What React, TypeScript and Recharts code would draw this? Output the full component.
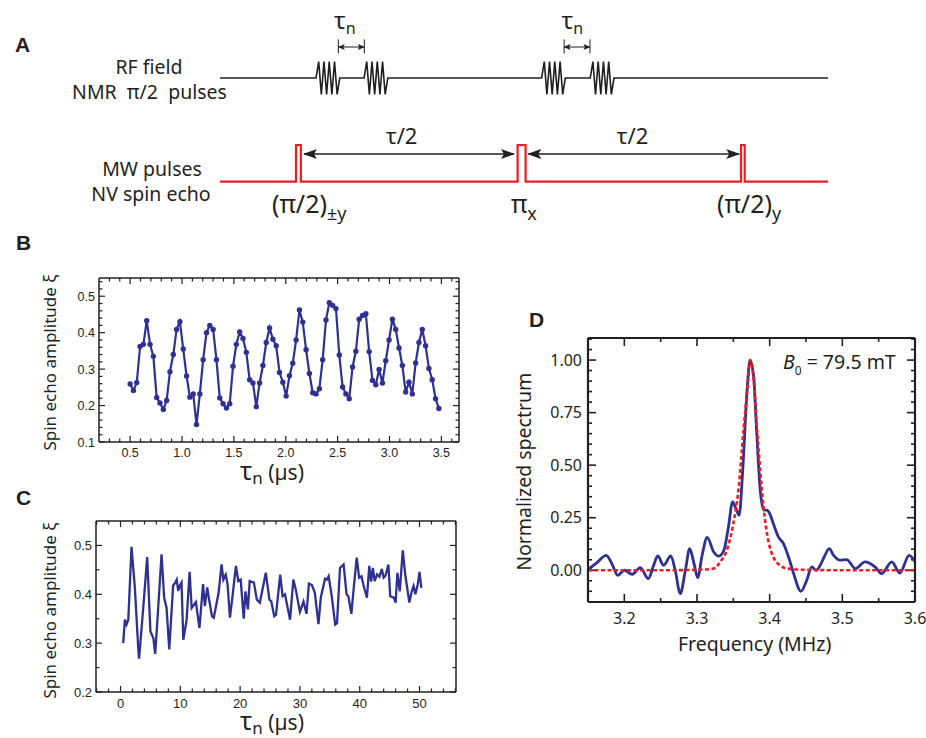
import React from 'react';
import { LineChart, Line, XAxis, YAxis, ReferenceLine } from 'recharts';

const INK = '#231f20';
const NAVY = '#2e3192';
const RED = '#ed1c24';
const SANS = '"Noto Sans", "Open Sans", sans-serif';
const ARIAL = '"Liberation Sans", Arial, sans-serif';

// ---- panel A: pulse sequence (arbitrary time units 0..100) ----
const rfBase = 7.1;
const rfBurstStarts = [15.8, 23.7, 52.9, 60.9];
const rfBurstShape = [0, 0.82, -0.82, 0.82, -0.82, 0.82, -0.82, 0.82, -0.82, 0];
const rfBurstWidth = 3.9;
const mwBase = 1.92;
const mwTop = 3.75;
const mwPulses = [
  [12.5, 13.3],
  [48.95, 50.26],
  [85.7, 86.3],
];

// ---- panel B ----
const bTau = [
  0.5, 0.532, 0.564, 0.596, 0.628, 0.66, 0.692, 0.724, 0.756, 0.788,
  0.82, 0.852, 0.884, 0.916, 0.948, 0.98, 1.012, 1.044, 1.076, 1.108,
  1.14, 1.172, 1.204, 1.236, 1.268, 1.3, 1.332, 1.364, 1.396, 1.428,
  1.46, 1.492, 1.524, 1.556, 1.588, 1.62, 1.652, 1.684, 1.716, 1.748,
  1.78, 1.812, 1.844, 1.876, 1.908, 1.94, 1.972, 2.004, 2.036, 2.068,
  2.1, 2.132, 2.164, 2.196, 2.228, 2.26, 2.292, 2.324, 2.356, 2.388,
  2.42, 2.452, 2.484, 2.516, 2.548, 2.58, 2.612, 2.644, 2.676, 2.708,
  2.74, 2.772, 2.804, 2.836, 2.868, 2.9, 2.932, 2.964, 2.996, 3.028,
  3.06, 3.092, 3.124, 3.156, 3.188, 3.22, 3.252, 3.284, 3.316, 3.348,
  3.38, 3.412, 3.444, 3.476,
];
const bEcho = [
  0.259, 0.241, 0.263, 0.362, 0.368, 0.433, 0.368, 0.335, 0.222, 0.207,
  0.189, 0.214, 0.293, 0.34, 0.409, 0.43, 0.355, 0.281, 0.223, 0.232,
  0.148, 0.232, 0.326, 0.4, 0.42, 0.409, 0.326, 0.221, 0.205, 0.193,
  0.205, 0.308, 0.368, 0.402, 0.384, 0.346, 0.271, 0.262, 0.197, 0.262,
  0.31, 0.373, 0.413, 0.382, 0.364, 0.291, 0.264, 0.226, 0.282, 0.316,
  0.38, 0.462, 0.429, 0.353, 0.288, 0.235, 0.232, 0.246, 0.326, 0.435,
  0.482, 0.475, 0.466, 0.339, 0.251, 0.232, 0.219, 0.306, 0.349, 0.437,
  0.447, 0.452, 0.348, 0.269, 0.257, 0.299, 0.262, 0.323, 0.38, 0.437,
  0.409, 0.358, 0.31, 0.237, 0.264, 0.232, 0.317, 0.373, 0.409, 0.364,
  0.302, 0.271, 0.219, 0.192,
];

// ---- panel C ----
const cTau = [
  0.45, 0.73, 1.0, 1.3, 1.84, 2.4, 2.96, 3.1, 3.8, 4.46, 5.0, 5.5, 5.8, 6.3,
  6.86, 7.3, 7.7, 8.15, 8.8, 9.2, 9.4, 9.65, 9.93, 10.2, 10.5, 11.05, 11.55,
  11.9, 12.6, 13.2, 13.8, 14.1, 14.5, 14.8, 15.3, 15.6, 16.4, 16.9, 17.2, 17.6,
  17.9, 18.3, 18.7, 19.3, 19.7, 20.1, 20.6, 20.9, 21.3, 21.6, 22.3, 22.8, 23.3,
  24.3, 24.9, 25.2, 25.7, 26.0, 26.7, 27.1, 27.5, 28.35, 28.9, 29.3, 30.0, 30.6,
  31.1, 31.5, 32.0, 32.5, 33.1, 33.5, 34.2, 34.5, 34.8, 35.3, 35.9, 36.2, 36.7,
  37.3, 37.8, 38.1, 38.6, 39.0, 39.5, 39.9, 40.3, 40.6, 41.2, 41.6, 41.9, 42.2,
  42.5, 42.9, 43.3, 43.7, 44.0, 44.3, 44.8, 45.1, 45.7, 46.0, 46.3, 46.7, 47.2,
  47.6, 48.3, 48.7, 49.0, 49.3, 49.7, 50.0, 50.3,
];
const cEcho = [
  0.3, 0.348, 0.338, 0.348, 0.497, 0.413, 0.29, 0.268, 0.372, 0.476, 0.324, 0.31,
  0.278, 0.372, 0.482, 0.393, 0.372, 0.287, 0.418, 0.425, 0.43, 0.407, 0.418,
  0.424, 0.307, 0.347, 0.446, 0.372, 0.384, 0.331, 0.421, 0.376, 0.414, 0.39,
  0.355, 0.352, 0.403, 0.461, 0.43, 0.44, 0.42, 0.352, 0.393, 0.458, 0.427, 0.43,
  0.35, 0.406, 0.369, 0.427, 0.424, 0.389, 0.383, 0.444, 0.389, 0.386, 0.355,
  0.358, 0.44, 0.396, 0.4, 0.348, 0.43, 0.41, 0.364, 0.385, 0.36, 0.422, 0.419,
  0.403, 0.339, 0.394, 0.432, 0.43, 0.437, 0.398, 0.338, 0.341, 0.454, 0.461,
  0.4, 0.396, 0.36, 0.413, 0.475, 0.434, 0.437, 0.42, 0.393, 0.458, 0.426, 0.454,
  0.427, 0.441, 0.436, 0.452, 0.434, 0.438, 0.461, 0.396, 0.393, 0.383, 0.444,
  0.406, 0.49, 0.441, 0.383, 0.406, 0.417, 0.4, 0.42, 0.446, 0.413,
];

// ---- panel D ----
const dFreq = [
  3.15, 3.162, 3.175, 3.183, 3.191, 3.2, 3.211, 3.222, 3.233, 3.24, 3.246, 3.254,
  3.264, 3.27, 3.277, 3.284, 3.29, 3.296, 3.301, 3.307, 3.314, 3.323, 3.33, 3.337,
  3.343, 3.349, 3.354, 3.358, 3.363, 3.369, 3.373, 3.378, 3.382, 3.387, 3.392,
  3.396, 3.4, 3.405, 3.412, 3.419, 3.426, 3.433, 3.443, 3.451, 3.458, 3.464, 3.469,
  3.475, 3.482, 3.488, 3.497, 3.506, 3.518, 3.531, 3.545, 3.554, 3.568, 3.579,
  3.592, 3.6,
];
const dSpectrum = [
  0.003, 0.035, 0.071, 0.03, -0.024, 0.0, -0.019, 0.013, -0.04, 0.02, 0.068, 0.024,
  0.068, 0.0, -0.111, 0.0, 0.103, 0.03, -0.035, 0.07, 0.156, 0.087, 0.067, 0.095,
  0.2, 0.325, 0.29, 0.262, 0.48, 0.86, 1.0, 0.92, 0.667, 0.381, 0.286, 0.286, 0.27,
  0.222, 0.159, 0.127, 0.063, -0.016, -0.1, -0.048, 0.016, 0.0, 0.02, 0.063, 0.103,
  0.071, 0.048, 0.051, 0.008, 0.04, 0.016, -0.016, 0.04, -0.013, 0.071, 0.04,
];
const dFitFreq = [
  3.15, 3.2, 3.25, 3.3, 3.323, 3.332, 3.341, 3.35, 3.357, 3.364, 3.37, 3.373,
  3.378, 3.382, 3.387, 3.392, 3.398, 3.405, 3.414, 3.424, 3.45, 3.5, 3.55, 3.6,
];
const dFit = [
  0, 0, 0, 0.002, 0.008, 0.04, 0.095, 0.222, 0.381, 0.667, 0.889, 1.0, 0.905,
  0.698, 0.476, 0.286, 0.143, 0.063, 0.024, 0.008, 0.002, 0, 0, 0,
];

const zip = (xs: number[], ys: number[]) => xs.map((x, i) => ({ x, y: ys[i] }));

// tick positions for the framed axes (major + minor)
const range = (a: number, b: number, step: number) => {
  const out: number[] = [];
  for (let v = a; v <= b + step / 1000; v += step) out.push(Math.round(v * 1e6) / 1e6);
  return out;
};

const isMaj = (m: number[], v: number) => m.some(q => Math.abs(q - v) < 1e-6);

interface LabelOpts {
  side: 'bottom' | 'left';
  major: number[];
  fmt: (v: number) => string;
  font: string;
  size: number;
  gap: number;
}

// tick label only (tick marks are drawn as reference segments)
function makeLabel(o: LabelOpts) {
  return (props: any) => {
    const x = Number(props.x);
    const y = Number(props.y);
    const v = props.payload.value;
    if (!isMaj(o.major, v)) return <g />;
    const txt = { fontFamily: o.font, fontSize: o.size, fill: INK };
    return o.side === 'bottom' ? (
      <text x={x} y={y + o.gap} textAnchor="middle" style={txt}>{o.fmt(v)}</text>
    ) : (
      <text x={x - o.gap} y={y} dy="0.36em" textAnchor="end" style={txt}>{o.fmt(v)}</text>
    );
  };
}

interface FrameCfg {
  xDomain: [number, number];
  yDomain: [number, number];
  xTicks: number[];
  yTicks: number[];
  xMajor: number[];
  yMajor: number[];
  xFmt: (v: number) => string;
  yFmt: (v: number) => string;
  font: string;
  size: number;
  frame: number;
  tickW: number;
  len: number;
  minorLen: number;
  bottomH: number;
  leftW: number;
  xGap: number;
  yGap: number;
  plotW: number;
  plotH: number;
}

function frameAxes(c: FrameCfg) {
  const common = {
    type: 'number' as const,
    interval: 0 as const,
    tickLine: false,
    tickSize: 0,
    tickMargin: 0,
    stroke: INK,
    axisLine: { stroke: INK, strokeWidth: c.frame },
  };
  return [
    <XAxis key="xb" xAxisId="b" orientation="bottom" dataKey="x" domain={c.xDomain} ticks={c.xTicks}
      height={c.bottomH}
      tick={makeLabel({ side: 'bottom', major: c.xMajor, fmt: c.xFmt, font: c.font, size: c.size, gap: c.xGap })}
      {...common} />,
    <XAxis key="xt" xAxisId="t" orientation="top" dataKey="x" domain={c.xDomain} ticks={c.xTicks}
      height={1} tick={false} {...common} />,
    <YAxis key="yl" yAxisId="l" orientation="left" domain={c.yDomain} ticks={c.yTicks} width={c.leftW}
      tick={makeLabel({ side: 'left', major: c.yMajor, fmt: c.yFmt, font: c.font, size: c.size, gap: c.yGap })}
      {...common} />,
    <YAxis key="yr" yAxisId="r" orientation="right" domain={c.yDomain} ticks={c.yTicks} width={1}
      tick={false} {...common} />,
  ];
}

// inward tick marks on all four sides of the frame
function frameTicks(c: FrameCfg) {
  const [x0, x1] = c.xDomain;
  const [y0, y1] = c.yDomain;
  const perPxX = (x1 - x0) / c.plotW;
  const perPxY = (y1 - y0) / c.plotH;
  const line = { xAxisId: 'b', yAxisId: 'l', stroke: INK, strokeWidth: c.tickW };
  const out: React.ReactNode[] = [];
  c.xTicks.forEach(v => {
    const l = (isMaj(c.xMajor, v) ? c.len : c.minorLen) * perPxY;
    out.push(<ReferenceLine key={`xb${v}`} {...line} segment={[{ x: v, y: y0 }, { x: v, y: y0 + l }]} />);
    out.push(<ReferenceLine key={`xt${v}`} {...line} segment={[{ x: v, y: y1 }, { x: v, y: y1 - l }]} />);
  });
  c.yTicks.forEach(v => {
    const l = (isMaj(c.yMajor, v) ? c.len : c.minorLen) * perPxX;
    out.push(<ReferenceLine key={`yl${v}`} {...line} segment={[{ x: x0, y: v }, { x: x0 + l, y: v }]} />);
    out.push(<ReferenceLine key={`yr${v}`} {...line} segment={[{ x: x1, y: v }, { x: x1 - l, y: v }]} />);
  });
  return out;
}

const abs = (style: React.CSSProperties): React.CSSProperties => ({
  position: 'absolute',
  fontFamily: SANS,
  color: INK,
  whiteSpace: 'pre',
  lineHeight: 1,
  ...style,
});

const letter = (ch: string, left: number, baseline: number) => (
  <div style={abs({ left, top: baseline - 21 * 0.8465, fontFamily: ARIAL, fontWeight: 700, fontSize: 21 })}>{ch}</div>
);

const centered = (text: string, cx: number, baseline: number, fs: number) => (
  <div style={abs({ left: cx - 110, width: 220, textAlign: 'center', top: baseline - fs * 0.888, fontSize: fs })}>{text}</div>
);

const rotated = (content: React.ReactNode, cx: number, cy: number, fs: number, w = 260) => (
  <div style={abs({
    left: cx - w / 2, top: cy - fs / 2, width: w, height: fs, textAlign: 'center', fontSize: fs,
    transform: 'rotate(-90deg)', transformOrigin: '50% 50%',
  })}>{content}</div>
);

const tauLabel = (left: number, baseline: number) => (
  <div style={abs({ left, top: baseline - 25 * 0.888, fontSize: 25 })}>
    <span>τ</span>
    <span style={{ fontSize: 17, position: 'relative', top: 4 }}>n</span>
    <span style={{ fontSize: 21 }}> (µs)</span>
  </div>
);

const piLabel = (left: number, baseline: number, main: string, sub: string) => (
  <div style={abs({ left, top: baseline - 25 * 0.888, fontSize: 25 })}>
    <span>{main}</span>
    <span style={{ fontSize: 18, position: 'relative', top: 7 }}>{sub}</span>
  </div>
);

function PulseDiagram() {
  const rfTrace = [{ x: 0, y: rfBase }];
  rfBurstStarts.forEach(s => {
    rfBurstShape.forEach((a, i) => {
      rfTrace.push({ x: s + (i * rfBurstWidth) / (rfBurstShape.length - 1), y: rfBase + a });
    });
  });
  rfTrace.push({ x: 100, y: rfBase });

  const mwTrace = [{ x: 0, y: mwBase }];
  mwPulses.forEach(([a, b]) => {
    mwTrace.push({ x: a, y: mwBase }, { x: a, y: mwTop }, { x: b, y: mwTop }, { x: b, y: mwBase });
  });
  mwTrace.push({ x: 100, y: mwBase });

  const big = { stroke: INK, strokeWidth: 1.6, markerStart: 'url(#ahBig)', markerEnd: 'url(#ahBig)' };
  const small = { stroke: INK, strokeWidth: 1, markerStart: 'url(#ahSmall)', markerEnd: 'url(#ahSmall)' };
  const bar = { stroke: INK, strokeWidth: 1 };

  return (
    <LineChart width={608} height={200} margin={{ top: 0, right: 0, bottom: 0, left: 0 }}
      style={{ position: 'absolute', left: 220, top: 20 }}>
      <XAxis type="number" dataKey="x" domain={[0, 100]} hide />
      <YAxis type="number" domain={[0, 10]} hide />
      <Line data={rfTrace} dataKey="y" type="linear" stroke={INK} strokeWidth={1.6} dot={false} isAnimationActive={false} />
      <Line data={mwTrace} dataKey="y" type="linear" stroke={RED} strokeWidth={2.2} dot={false} isAnimationActive={false} />
      <ReferenceLine segment={[{ x: 13.8, y: 3.3 }, { x: 48.35, y: 3.3 }]} {...big} />
      <ReferenceLine segment={[{ x: 50.7, y: 3.3 }, { x: 85.4, y: 3.3 }]} {...big} />
      <ReferenceLine segment={[{ x: 19.46, y: 8.65 }, { x: 23.74, y: 8.65 }]} {...small} />
      <ReferenceLine segment={[{ x: 56.6, y: 8.65 }, { x: 60.85, y: 8.65 }]} {...small} />
      <ReferenceLine segment={[{ x: 19.46, y: 9.03 }, { x: 19.46, y: 8.33 }]} {...bar} />
      <ReferenceLine segment={[{ x: 23.74, y: 9.03 }, { x: 23.74, y: 8.33 }]} {...bar} />
      <ReferenceLine segment={[{ x: 56.6, y: 9.03 }, { x: 56.6, y: 8.33 }]} {...bar} />
      <ReferenceLine segment={[{ x: 60.85, y: 9.03 }, { x: 60.85, y: 8.33 }]} {...bar} />
    </LineChart>
  );
}

function PanelB() {
  const cfg: FrameCfg = {
    xDomain: [0.2, 3.67], yDomain: [0.1, 0.55],
    xTicks: range(0.3, 3.6, 0.1), yTicks: range(0.1, 0.54, 0.02),
    xMajor: [0.5, 1, 1.5, 2, 2.5, 3, 3.5], yMajor: [0.1, 0.2, 0.3, 0.4, 0.5],
    xFmt: v => v.toFixed(1), yFmt: v => v.toFixed(1),
    font: ARIAL, size: 12.5, frame: 1.5, tickW: 1.2, len: 6, minorLen: 3.5,
    bottomH: 30, leftW: 40, xGap: 15, yGap: 4, plotW: 360, plotH: 164,
  };
  return (
    <LineChart width={480} height={220} margin={{ top: 17, right: 20, bottom: 8, left: 59 }}
      style={{ position: 'absolute', left: 0, top: 260 }}>
      {frameAxes(cfg)}
      {frameTicks(cfg)}
      <Line data={zip(bTau, bEcho)} xAxisId="b" yAxisId="l" dataKey="y" type="linear" stroke={NAVY}
        strokeWidth={2.2} dot={{ r: 2.7, fill: NAVY, stroke: NAVY, strokeWidth: 0 }} isAnimationActive={false} />
    </LineChart>
  );
}

function PanelC() {
  const cfg: FrameCfg = {
    xDomain: [-4.1, 56.1], yDomain: [0.2, 0.55],
    xTicks: range(-4, 56, 2), yTicks: range(0.2, 0.5, 0.05),
    xMajor: [0, 10, 20, 30, 40, 50], yMajor: [0.2, 0.3, 0.4, 0.5],
    xFmt: v => String(v), yFmt: v => v.toFixed(1),
    font: ARIAL, size: 13, frame: 1.5, tickW: 1.2, len: 6, minorLen: 3.5,
    bottomH: 28, leftW: 40, xGap: 16, yGap: 4, plotW: 360, plotH: 171,
  };
  return (
    <LineChart width={480} height={220} margin={{ top: 20, right: 23, bottom: 0, left: 56 }}
      style={{ position: 'absolute', left: 0, top: 500 }}>
      {frameAxes(cfg)}
      {frameTicks(cfg)}
      <Line data={zip(cTau, cEcho)} xAxisId="b" yAxisId="l" dataKey="y" type="linear" stroke={NAVY}
        strokeWidth={2.3} dot={false} isAnimationActive={false} />
    </LineChart>
  );
}

function PanelD() {
  const cfg: FrameCfg = {
    xDomain: [3.15, 3.6], yDomain: [-0.151, 1.105],
    xTicks: range(3.15, 3.6, 0.05), yTicks: range(-0.15, 1.1, 0.05),
    xMajor: [3.2, 3.3, 3.4, 3.5, 3.6], yMajor: [0, 0.25, 0.5, 0.75, 1],
    xFmt: v => v.toFixed(1), yFmt: v => v.toFixed(2),
    font: SANS, size: 16, frame: 2.2, tickW: 1.6, len: 8, minorLen: 4,
    bottomH: 28, leftW: 50, xGap: 22, yGap: 6, plotW: 327, plotH: 264,
  };
  return (
    <LineChart width={426} height={310} margin={{ top: 17, right: 10, bottom: 0, left: 38 }}
      style={{ position: 'absolute', left: 500, top: 320 }}>
      {frameAxes(cfg)}
      {frameTicks(cfg)}
      <Line data={zip(dFreq, dSpectrum)} xAxisId="b" yAxisId="l" dataKey="y" type="monotone" stroke={NAVY}
        strokeWidth={2.8} dot={false} isAnimationActive={false} />
      <Line data={zip(dFitFreq, dFit)} xAxisId="b" yAxisId="l" dataKey="y" type="monotone" stroke={RED}
        strokeWidth={2.6} strokeDasharray="4 2.5" dot={false} isAnimationActive={false} />
    </LineChart>
  );
}

export default function App() {
  return (
    <div style={{ position: 'absolute', left: 0, top: 0, width: 926, height: 738, background: '#fff', overflow: 'hidden' }}>
      <svg width={0} height={0} style={{ position: 'absolute' }}>
        <defs>
          <marker id="ahBig" viewBox="0 0 14 10" refX={13} refY={5} markerWidth={14} markerHeight={10}
            markerUnits="userSpaceOnUse" orient="auto-start-reverse">
            <path d="M0,0 L14,5 L0,10 L3,5 z" fill={INK} />
          </marker>
          <marker id="ahSmall" viewBox="0 0 7 6" refX={6.5} refY={3} markerWidth={7} markerHeight={6}
            markerUnits="userSpaceOnUse" orient="auto-start-reverse">
            <path d="M0,0 L7,3 L0,6 L1.5,3 z" fill={INK} />
          </marker>
        </defs>
      </svg>

      {letter('A', 15, 52)}
      {letter('B', 16, 250)}
      {letter('C', 16, 505)}
      {letter('D', 529, 327)}

      {centered('RF field', 149, 74, 19.5)}
      {centered('NMR  π/2  pulses', 149.5, 99, 19.5)}
      {centered('MW pulses', 152, 176, 19.5)}
      {centered('NV spin echo', 151, 201.7, 19.5)}

      <PulseDiagram />

      {[334, 561.5].map(l => (
        <div key={l} style={abs({ left: l, top: 29 - 24 * 0.888, fontSize: 24 })}>
          τ<span style={{ fontSize: 16, position: 'relative', top: 5 }}>n</span>
        </div>
      ))}
      {centered('τ/2', 401.7, 144, 22)}
      {centered('τ/2', 632.5, 144, 22)}
      {piLabel(272, 213, '(π/2)', '±y')}
      {piLabel(511, 213, 'π', 'x')}
      {piLabel(717, 213, '(π/2)', 'y')}

      <PanelB />
      <PanelC />
      <PanelD />

      {tauLabel(240, 480)}
      {tauLabel(240, 730)}
      {rotated('Spin echo amplitude ξ', 49, 362, 17)}
      {rotated('Spin echo amplitude ξ', 49, 610, 17)}
      {rotated('Normalized spectrum', 524, 472, 19.5)}
      <div style={abs({ left: 678, top: 651.7 - 19.5 * 0.888, fontSize: 19.5 })}>Frequency (MHz)</div>
      <div style={abs({ left: 783, top: 369.3 - 19.5 * 0.888, fontSize: 19.5 })}>
        <i>B</i>
        <span style={{ fontSize: 12, position: 'relative', top: 6 }}>0</span>
        <span> = 79.5 mT</span>
      </div>
    </div>
  );
}
